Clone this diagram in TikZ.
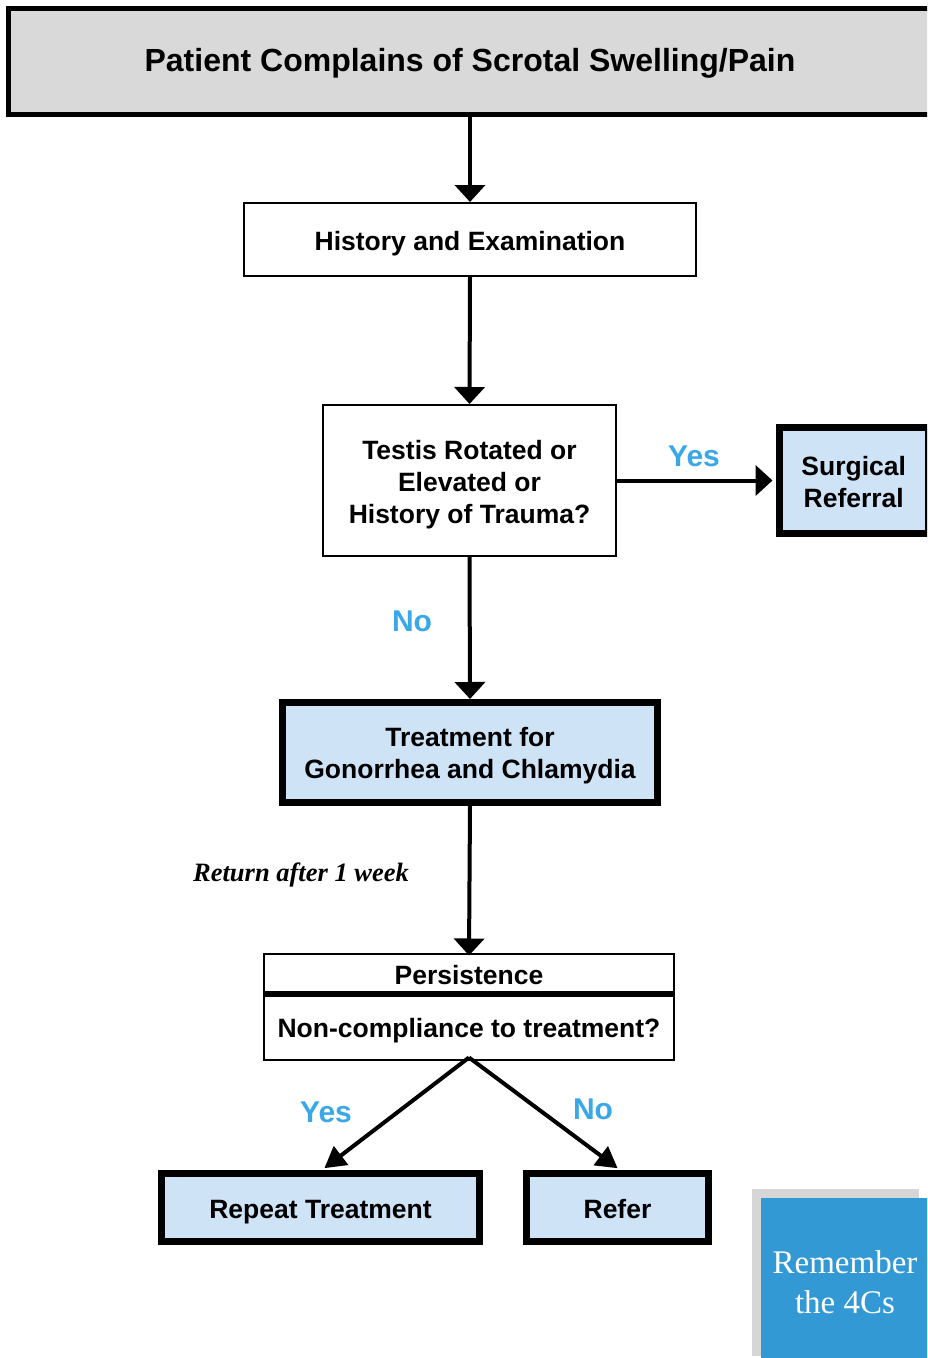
\documentclass[tikz,border=0pt]{standalone}
\usepackage{fontspec}
\setmainfont{Liberation Serif}
\setsansfont{Liberation Sans}
\usetikzlibrary{arrows.meta}
\definecolor{boxgray}{RGB}{217,217,217}
\definecolor{paleblue}{RGB}{207,227,247}
\definecolor{ansblue}{RGB}{58,168,232}
\definecolor{notefill}{RGB}{51,153,212}
\definecolor{noteshade}{RGB}{214,214,214}

% centred lines of box text, dropped slightly so the capitals sit mid-box
\newcommand\boxlines[2][4.5pt]{%
  \raisebox{-#1}[\height][\depth]{\begin{tabular}{@{}c@{}}#2\end{tabular}}}

\begin{document}
\begin{tikzpicture}[x=1pt,y=-1pt,
  boxfont/.style={font=\sffamily\bfseries\fontsize{26.5}{32}\selectfont},
  basebox/.style={boxfont, draw=black, align=center, inner sep=0pt},
  thinbox/.style={basebox, line width=2pt, fill=white},
  thickbox/.style={basebox, line width=7pt, fill=paleblue},
  answer/.style={font=\sffamily\bfseries\fontsize{30}{36}\selectfont, text=ansblue, inner sep=0pt},
  arr/.style={line width=4pt, -{Triangle[width=30pt,length=17pt]}},
  diag/.style={line width=4pt, -{Triangle[width=23pt,length=21pt]}, shorten >=3pt},
]
\useasboundingbox (0,0) rectangle (927,1358);
\fill[white] (0,0) rectangle (927,1358);
\clip (0,0) rectangle (927,1358);

% header
\node[basebox, line width=5pt, fill=boxgray, minimum width=928pt, minimum height=106pt] (top) at (472,61) {};
\node[font=\sffamily\bfseries\fontsize{32}{38}\selectfont, inner sep=0pt] (title) at (470,61)
  {\boxlines[3pt]{Patient Complains of Scrotal Swelling/Pain}};

% main column
\node[thinbox, minimum width=452pt, minimum height=73pt] (hist) at (470,239.5)
  {\boxlines{History and Examination}};
\node[thinbox, minimum width=293pt, minimum height=151pt] (testis) at (469.5,480.5)
  {\boxlines{Testis Rotated or\\Elevated or\\History of Trauma?}};
\node[thickbox, minimum width=149.5pt, minimum height=106pt] (surg) at (853.75,480.5)
  {\boxlines{Surgical\\Referral}};
\node[thickbox, minimum width=375pt, minimum height=100pt] (treat) at (470,752.5)
  {\boxlines[3.5pt]{Treatment for\\Gonorrhea and Chlamydia}};

% persistence check, split in two
\node[thinbox, minimum width=410pt, minimum height=106pt] (persist) at (469,1006.5) {};
\node[boxfont, inner sep=0pt] (pers) at (469,975) {Persistence};
\node[boxfont, inner sep=0pt] (noncomp) at (469,1028) {\boxlines[3pt]{Non-compliance to treatment?}};
\draw[line width=6pt] ([yshift=-41.5pt]persist.north west) -- ([yshift=-41.5pt]persist.north east);

% outcomes
\node[thickbox, minimum width=318pt, minimum height=68pt] (repeat) at (320.5,1207.5)
  {\boxlines{Repeat Treatment}};
\node[thickbox, minimum width=182pt, minimum height=68pt] (refer) at (617.5,1207.5)
  {\boxlines{Refer}};

% connectors
\draw[arr] (hist.north |- top.south) -- (hist.north);
\draw[arr] (hist.south) -- (testis.north);
\draw[arr] (testis.east) -- ([xshift=-3pt]surg.west);
\draw[arr] (testis.south) -- (treat.north);
\draw[arr] (treat.south) -- ([yshift=-3pt]persist.north);
\coordinate (apex) at ([yshift=3pt]persist.south);
\draw[diag] (apex) -- ([xshift=1.5pt]repeat.north);
\draw[diag] (apex) -- ([xshift=2.5pt]refer.north);

% branch labels
\node[answer] (yes1) at (694,456) {Yes};
\node[answer] (no1) at (412,621) {No};
\node[answer] (yes2) at (326,1112) {Yes};
\node[answer] (no2) at (593,1109) {No};
\node[font=\bfseries\itshape\fontsize{26.5}{32}\selectfont, inner sep=0pt] (ret) at (301,872)
  {\boxlines[3pt]{Return after 1 week}};

% reminder note
\fill[noteshade] (752,1189) rectangle (919,1356);
\node[fill=notefill, minimum width=168pt, minimum height=168pt, inner sep=0pt] (note) at (845,1282) {};
\node[text=white, align=center, font=\fontsize{33}{40}\selectfont, inner sep=0pt] (notetext) at (845,1282)
  {Remember\\the 4Cs};
\end{tikzpicture}
\end{document}
